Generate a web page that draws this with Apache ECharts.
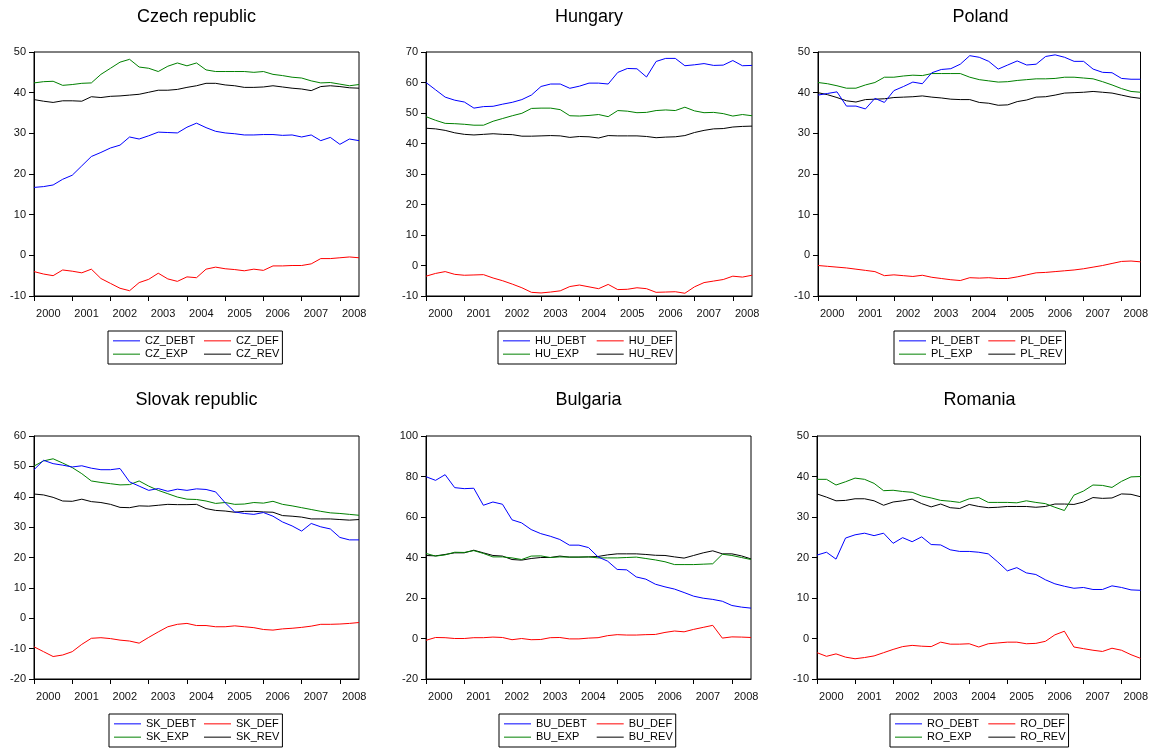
<!DOCTYPE html>
<html>
<head>
<meta charset="utf-8">
<script src="https://cdn.jsdelivr.net/npm/echarts@6/dist/echarts.min.js"></script>
<style>
html,body{margin:0;padding:0;background:#fff;}
#chart{width:1151px;height:749px;}
</style>
</head>
<body>
<div id="chart"></div>
<script>
// Quarterly observations 2000Q1 .. 2008Q3
const quarters = ['2000Q1','2000Q2','2000Q3','2000Q4','2001Q1','2001Q2','2001Q3','2001Q4',
  '2002Q1','2002Q2','2002Q3','2002Q4','2003Q1','2003Q2','2003Q3','2003Q4',
  '2004Q1','2004Q2','2004Q3','2004Q4','2005Q1','2005Q2','2005Q3','2005Q4',
  '2006Q1','2006Q2','2006Q3','2006Q4','2007Q1','2007Q2','2007Q3','2007Q4',
  '2008Q1','2008Q2','2008Q3'];
const years = ['2000','2001','2002','2003','2004','2005','2006','2007','2008'];

const CZ_DEBT = [16.7,16.9,17.3,18.7,19.7,22.0,24.3,25.3,26.4,27.1,29.1,28.6,29.4,30.3,30.2,30.1,31.5,32.5,31.4,30.5,30.1,29.9,29.6,29.6,29.7,29.7,29.5,29.6,29.1,29.6,28.2,29.0,27.3,28.6,28.2];
const CZ_DEF  = [-4.0,-4.6,-5.0,-3.6,-3.9,-4.3,-3.4,-5.7,-6.9,-8.1,-8.7,-6.7,-5.9,-4.4,-5.8,-6.4,-5.3,-5.5,-3.4,-2.9,-3.3,-3.5,-3.8,-3.4,-3.7,-2.6,-2.6,-2.5,-2.5,-2.1,-0.8,-0.8,-0.6,-0.4,-0.6];
const CZ_EXP  = [42.4,42.7,42.8,41.8,42.0,42.3,42.4,44.5,46.0,47.5,48.2,46.3,46.0,45.2,46.5,47.3,46.6,47.3,45.6,45.2,45.2,45.2,45.2,45.0,45.2,44.5,44.2,43.8,43.6,42.9,42.4,42.5,42.1,41.7,42.0];
const CZ_REV  = [38.3,37.9,37.6,38.0,38.0,37.9,39.0,38.8,39.1,39.2,39.4,39.6,40.1,40.6,40.6,40.8,41.3,41.7,42.3,42.3,41.9,41.7,41.3,41.3,41.4,41.7,41.4,41.1,40.9,40.5,41.5,41.7,41.5,41.2,41.1];

const HU_DEBT = [60.0,57.6,55.2,54.2,53.6,51.6,52.1,52.2,52.9,53.5,54.4,55.9,58.7,59.5,59.5,58.1,58.8,59.8,59.8,59.5,63.3,64.6,64.5,61.8,66.9,67.9,67.9,65.5,65.8,66.2,65.6,65.7,67.2,65.5,65.6];
const HU_DEF  = [-3.5,-2.6,-2.0,-2.9,-3.2,-3.1,-3.0,-4.1,-5.0,-6.1,-7.3,-8.8,-9.0,-8.7,-8.3,-6.9,-6.4,-7.0,-7.6,-6.2,-7.9,-7.8,-7.3,-7.6,-8.8,-8.7,-8.6,-9.1,-7.0,-5.6,-5.1,-4.6,-3.5,-3.8,-3.2];
const HU_EXP  = [48.8,47.6,46.6,46.5,46.3,46.0,46.0,47.3,48.2,49.1,49.9,51.5,51.6,51.6,51.1,49.1,49.0,49.2,49.5,48.8,50.8,50.6,50.1,50.2,50.8,51.0,50.8,51.9,50.7,50.1,50.2,49.8,49.0,49.5,49.1];
const HU_REV  = [45.0,44.8,44.3,43.5,43.0,42.8,43.0,43.2,43.0,42.9,42.4,42.4,42.5,42.6,42.5,42.0,42.3,42.2,41.8,42.6,42.5,42.5,42.5,42.3,41.9,42.1,42.2,42.6,43.6,44.3,44.8,44.9,45.4,45.6,45.7];

const PL_DEBT = [39.4,39.8,40.2,36.7,36.7,36.0,38.6,37.6,40.5,41.5,42.6,42.2,44.9,45.7,45.9,47.0,49.1,48.7,47.7,45.8,46.8,47.8,46.8,47.0,48.9,49.3,48.7,47.7,47.7,45.8,45.0,44.9,43.5,43.3,43.3];
const PL_DEF  = [-2.5,-2.7,-2.9,-3.1,-3.4,-3.7,-4.0,-5.0,-4.8,-5.0,-5.2,-4.9,-5.4,-5.7,-6.0,-6.2,-5.5,-5.6,-5.5,-5.7,-5.7,-5.3,-4.8,-4.3,-4.2,-4.0,-3.8,-3.6,-3.3,-2.9,-2.5,-2.0,-1.5,-1.4,-1.6];
const PL_EXP  = [42.5,42.2,41.7,41.1,41.1,41.9,42.5,43.8,43.8,44.1,44.3,44.2,44.7,44.7,44.7,44.7,43.8,43.2,42.9,42.6,42.7,43.0,43.2,43.4,43.4,43.5,43.8,43.8,43.6,43.4,42.7,41.9,41.0,40.3,40.1];
const PL_REV  = [40.0,39.5,38.8,38.0,37.7,38.3,38.4,38.5,38.8,38.9,39.0,39.2,38.9,38.7,38.4,38.3,38.3,37.6,37.4,36.9,37.0,37.8,38.2,38.9,39.0,39.4,39.9,40.0,40.1,40.3,40.1,39.9,39.4,38.9,38.6];

const SK_DEBT = [48.9,52.0,50.9,50.4,49.8,50.2,49.4,48.9,48.9,49.3,44.9,43.5,42.1,42.7,41.8,42.5,42.1,42.6,42.4,41.6,38.0,35.0,34.5,34.2,34.8,33.6,31.7,30.4,28.7,31.2,30.1,29.4,26.6,25.8,25.8];
const SK_DEF  = [-9.4,-11.0,-12.6,-12.1,-11.0,-8.6,-6.6,-6.4,-6.7,-7.2,-7.5,-8.2,-6.3,-4.5,-2.8,-2.0,-1.7,-2.4,-2.4,-2.8,-2.8,-2.5,-2.8,-3.1,-3.7,-3.9,-3.5,-3.3,-3.0,-2.6,-2.0,-2.0,-1.9,-1.7,-1.4];
const SK_EXP  = [50.1,51.8,52.5,51.1,49.6,47.6,45.2,44.7,44.3,43.9,44.0,45.2,43.5,42.1,41.0,39.9,39.2,39.1,38.6,37.8,38.1,37.5,37.6,38.1,37.9,38.5,37.5,37.0,36.4,35.8,35.2,34.7,34.5,34.2,33.9];
const SK_REV  = [40.9,40.6,39.8,38.6,38.5,39.2,38.4,38.1,37.5,36.5,36.4,37.0,36.9,37.2,37.5,37.4,37.4,37.5,36.1,35.5,35.3,34.9,35.2,35.2,35.0,34.9,33.8,33.6,33.3,32.7,32.7,32.7,32.5,32.3,32.5];

const BU_DEBT = [79.9,78.1,80.9,74.5,74.0,74.2,65.8,67.4,66.3,58.6,57.1,53.8,51.8,50.5,48.9,46.1,46.1,44.9,40.3,38.2,34.1,33.9,30.4,29.3,26.8,25.5,24.4,22.7,20.9,19.9,19.3,18.4,16.3,15.5,15.0];
const BU_DEF  = [-0.9,0.5,0.4,0.0,0.0,0.4,0.4,0.7,0.5,-0.6,0.0,-0.6,-0.5,0.4,0.5,-0.2,-0.2,0.2,0.4,1.4,1.9,1.7,1.7,1.9,2.0,3.0,3.7,3.3,4.5,5.5,6.5,0.2,0.8,0.7,0.5];
const BU_EXP  = [42.0,40.7,41.3,42.6,42.5,43.4,42.0,40.3,40.3,39.8,39.0,40.7,40.8,40.0,40.3,40.2,40.2,40.3,39.8,39.8,39.8,40.0,40.2,39.5,38.8,37.9,36.5,36.5,36.5,36.7,36.9,41.6,41.0,40.0,39.0];
const BU_REV  = [41.0,40.8,41.5,42.3,42.3,43.6,42.3,41.0,40.7,39.0,38.7,39.5,40.0,40.0,40.7,40.2,40.2,40.3,40.5,41.3,41.8,41.8,41.8,41.5,41.1,41.0,40.3,39.7,41.0,42.3,43.3,41.8,41.8,40.8,39.3];

const RO_DEBT = [20.6,21.3,19.6,24.8,25.6,26.0,25.4,26.0,23.5,24.9,23.9,25.1,23.2,23.1,21.9,21.5,21.5,21.3,20.9,18.9,16.7,17.5,16.2,15.8,14.5,13.5,12.9,12.4,12.6,12.1,12.1,13.0,12.6,12.0,11.9];
const RO_DEF  = [-3.5,-4.4,-3.8,-4.6,-5.0,-4.7,-4.3,-3.5,-2.7,-2.0,-1.7,-1.9,-2.0,-0.9,-1.4,-1.4,-1.3,-2.1,-1.3,-1.1,-0.9,-0.9,-1.3,-1.2,-0.7,0.9,1.8,-2.1,-2.5,-2.9,-3.2,-2.4,-2.9,-4.0,-4.9];
const RO_EXP  = [39.3,39.3,37.9,38.7,39.6,39.3,38.3,36.5,36.6,36.3,36.1,35.2,34.7,34.1,33.9,33.6,34.5,34.8,33.6,33.6,33.6,33.5,34.0,33.6,33.3,32.4,31.6,35.4,36.4,37.9,37.8,37.3,38.8,39.9,40.0];
const RO_REV  = [35.7,34.9,34.0,34.1,34.5,34.5,34.0,32.9,33.7,34.0,34.4,33.3,32.5,33.2,32.3,32.1,33.1,32.6,32.3,32.4,32.6,32.6,32.6,32.4,32.6,33.2,33.2,33.1,33.7,34.8,34.6,34.7,35.7,35.6,35.0];

const panels = [
  {title:'Czech republic', code:'CZ', series:[CZ_DEBT, CZ_DEF, CZ_EXP, CZ_REV], yMin:-10, yMax:50, yInt:10,
   grid:{left:34, top:52, width:325, height:244}, lg:{left:108, top:331, W:176, off:96}},
  {title:'Hungary', code:'HU', series:[HU_DEBT, HU_DEF, HU_EXP, HU_REV], yMin:-10, yMax:70, yInt:10,
   grid:{left:426, top:52, width:326, height:244}, lg:{left:498, top:331, W:180, off:98.7}},
  {title:'Poland', code:'PL', series:[PL_DEBT, PL_DEF, PL_EXP, PL_REV], yMin:-10, yMax:50, yInt:10,
   grid:{left:818, top:52, width:325, height:244}, lg:{left:894, top:331, W:172, off:94.3}},
  {title:'Slovak republic', code:'SK', series:[SK_DEBT, SK_DEF, SK_EXP, SK_REV], yMin:-20, yMax:60, yInt:10,
   grid:{left:34, top:436, width:325, height:243}, lg:{left:109, top:714, W:175, off:95}},
  {title:'Bulgaria', code:'BU', series:[BU_DEBT, BU_DEF, BU_EXP, BU_REV], yMin:-20, yMax:100, yInt:20,
   grid:{left:426, top:436, width:325, height:243}, lg:{left:499, top:714, W:177, off:97.7}},
  {title:'Romania', code:'RO', series:[RO_DEBT, RO_DEF, RO_EXP, RO_REV], yMin:-10, yMax:50, yInt:10,
   grid:{left:817, top:436, width:325, height:243}, lg:{left:890, top:714, W:179, off:98.3}}
];
const suffixes = ['_DEBT','_DEF','_EXP','_REV'];
const colors = ['#0000ff','#ff0000','#008000','#000000'];
const FONT = '"Liberation Sans", Arial, Helvetica, sans-serif';

const tickPos = years.map((y, k) => 4 * k);
const labelPos = years.map((y, k) => 4 * k + 1.5);

const option = {
  backgroundColor: '#fff',
  animation: false,
  textStyle: {fontFamily: FONT},
  grid: [], xAxis: [], yAxis: [], series: [], legend: [], graphic: []
};

const GAP = 2.3;
panels.forEach((p, i) => {
  option.grid.push(Object.assign({show: true, borderColor: '#000', borderWidth: 1, backgroundColor: 'transparent'}, p.grid));
  option.xAxis.push({
    type: 'value', gridIndex: i, min: 0, max: quarters.length - 1,
    axisLine: {onZero: false, lineStyle: {color: '#000', width: 1}},
    axisTick: {show: true, length: 5, lineStyle: {color: '#000', width: 1}, customValues: tickPos},
    axisLabel: {customValues: labelPos, margin: 12, fontSize: 11, color: '#111', fontFamily: FONT,
      formatter: v => years[Math.round((v - 1.5) / 4)]},
    splitLine: {show: false}
  });
  option.yAxis.push({
    type: 'value', gridIndex: i, min: p.yMin, max: p.yMax, interval: p.yInt,
    axisLine: {show: true, onZero: false, lineStyle: {color: '#000', width: 1}},
    axisTick: {show: true, length: 5, lineStyle: {color: '#000', width: 1}},
    axisLabel: {margin: 8, fontSize: 11, color: '#111', fontFamily: FONT},
    splitLine: {show: false}
  });
  const names = suffixes.map(s => p.code + s);
  p.series.forEach((arr, j) => {
    option.series.push({
      name: names[j], type: 'line', xAxisIndex: i, yAxisIndex: i,
      data: arr.map((v, k) => [k, v]),
      symbol: 'none', showSymbol: false, silent: true,
      lineStyle: {width: 1, color: colors[j]}, itemStyle: {color: colors[j]},
      z: 2 + (3 - j)
    });
  });
  const w1 = p.lg.off - 37 - GAP;
  const w2 = p.lg.W - 76.3 - w1;
  const content = 64 + w1 + w2 + GAP;
  option.legend.push({
    data: names, left: p.lg.left, top: p.lg.top, width: content + 2,
    orient: 'horizontal', itemGap: GAP, itemWidth: 27, itemHeight: 1, icon: 'rect',
    padding: [4.35, 3, 4.35, 5], borderColor: '#000', borderWidth: 1, borderRadius: 0,
    selectedMode: false, inactiveColor: '#000',
    formatter: n => (n.endsWith('_DEBT') || n.endsWith('_EXP')) ? '{a|' + n + '}' : '{b|' + n + '}',
    textStyle: {fontSize: 11, color: '#000', fontFamily: FONT, lineHeight: 11,
      rich: {a: {width: w1, height: 11, lineHeight: 11, fontSize: 11, fontFamily: FONT, color: '#000'},
             b: {width: w2, height: 11, lineHeight: 11, fontSize: 11, fontFamily: FONT, color: '#000'}}}
  });
  option.graphic.push({
    type: 'text', x: p.grid.left + p.grid.width / 2, y: p.grid.top - (i < 3 ? 34.5 : 35.5),
    style: {text: p.title, fontSize: 18, fontFamily: FONT, fill: '#000', textAlign: 'center', textVerticalAlign: 'middle'}
  });
});

const chart = echarts.init(document.getElementById('chart'), null, {renderer: 'canvas'});
chart.setOption(option);
</script>
</body>
</html>
